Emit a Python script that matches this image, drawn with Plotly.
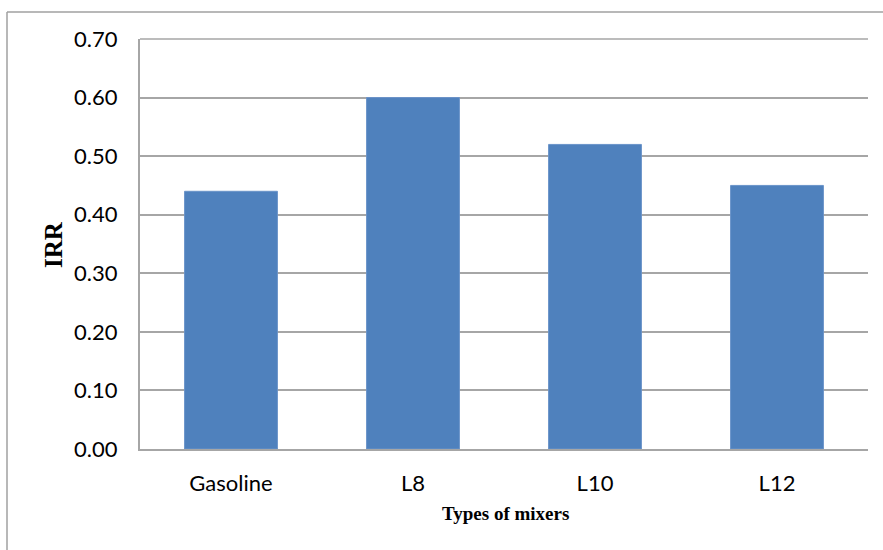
import plotly.graph_objects as go

categories = ["Gasoline", "L8", "L10", "L12"]
irr_values = [0.44, 0.60, 0.52, 0.45]
y_ticks = [0.0, 0.1, 0.2, 0.3, 0.4, 0.5, 0.6, 0.7]
y_tick_labels = [f"{v:.2f}" for v in y_ticks]

W, H = 883, 550
L, R, T, B = 140, 15, 39, 101
pw, ph = W - L - R, H - T - B

def px_x(x):
    return (x - L) / pw

def px_y(y):
    return (H - B - y) / ph

grid_color = "#A6A6A6"
bar_color = "#4F81BD"

fig = go.Figure(
    go.Bar(
        x=categories,
        y=irr_values,
        marker=dict(color=bar_color, line=dict(color="#6A93C9", width=1)),
        width=0.51,
    )
)

fig.update_layout(
    width=W,
    height=H,
    margin=dict(l=L, r=R, t=T, b=B, pad=0),
    paper_bgcolor="white",
    plot_bgcolor="white",
    showlegend=False,
    font=dict(family="Lato, Carlito, Calibri, sans-serif", color="black"),
    xaxis=dict(
        showgrid=False,
        showline=True,
        linecolor=grid_color,
        linewidth=2,
        ticks="",
        tickfont=dict(size=22, family="Lato, sans-serif"),
        ticklabelstandoff=14,
    ),
    yaxis=dict(
        range=[0, 0.7],
        tickvals=y_ticks,
        ticktext=y_tick_labels,
        showgrid=True,
        gridcolor=grid_color,
        gridwidth=1.5,
        showline=True,
        linecolor=grid_color,
        linewidth=2,
        ticks="",
        zeroline=False,
        tickfont=dict(size=22, family="Lato, sans-serif"),
        ticklabelstandoff=16,
    ),
    shapes=[
        # outer chart frame: top and left edges only, the rest lies off the page
        dict(type="line", xref="paper", yref="paper",
             x0=px_x(7), x1=px_x(W), y0=px_y(12), y1=px_y(12),
             line=dict(color="#A0A0A0", width=1.5)),
        dict(type="line", xref="paper", yref="paper",
             x0=px_x(7), x1=px_x(7), y0=px_y(12), y1=px_y(H),
             line=dict(color="#A0A0A0", width=1.5)),
        # top border of the plot area at 0.70
        dict(type="line", xref="paper", yref="paper",
             x0=0, x1=1, y0=1, y1=1,
             line=dict(color=grid_color, width=1.5)),
    ],
    annotations=[
        dict(text="<b>IRR</b>", xref="paper", yref="paper",
             x=px_x(53), y=px_y(245), textangle=-90, showarrow=False,
             xanchor="center", yanchor="middle",
             font=dict(family="Liberation Serif, Times New Roman, serif", size=25, color="black")),
        dict(text="<b>Types of mixers</b>", xref="paper", yref="paper",
             x=px_x(505), y=px_y(513), showarrow=False,
             xanchor="center", yanchor="middle",
             font=dict(family="Liberation Serif, Times New Roman, serif", size=19, color="black")),
    ],
)

fig.write_html("out.html")
